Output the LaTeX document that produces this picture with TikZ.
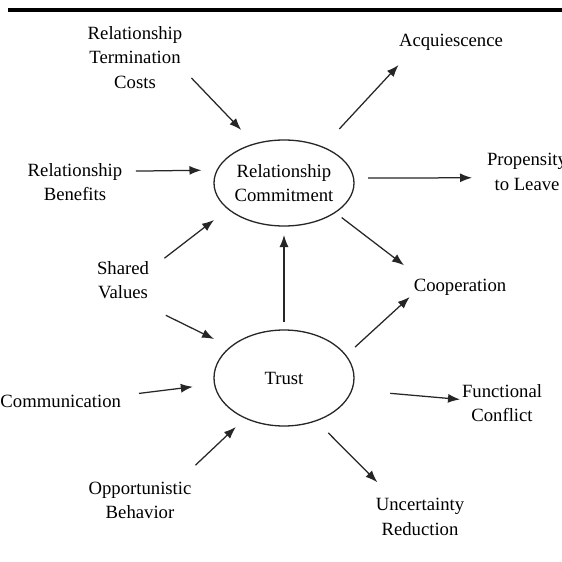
\documentclass[tikz,border=0pt]{standalone}
\usepackage{fontspec}
\setmainfont{Liberation Serif}
\usetikzlibrary{arrows.meta,shapes.geometric}

\tikzset{
  lbl/.style={inner sep=0pt, outer sep=0pt, align=center, text=black,
    font=\fontsize{18.7}{24.5}\selectfont},
  construct/.style={ellipse, draw=black!85, line width=1.3pt, inner sep=0pt,
    outer sep=0pt, text=black, align=center,
    font=\fontsize{18.7}{24.5}\selectfont},
  arr/.style={draw=black!85, line width=1.25pt,
    -{Latex[length=12pt,width=9pt]}},
  rule/.style={draw=black, line width=3.5pt}
}

\begin{document}
\begin{tikzpicture}[x=1pt,y=-1pt]
  \useasboundingbox (0,0) rectangle (562,562);
  \fill[white] (0,0) rectangle (562,562);
  \clip (0,0) rectangle (562,562);

  % heading rule
  \coordinate (ruleL) at (8,10);
  \coordinate (ruleR) at (562,10);
  \draw[rule] (ruleL) -- (ruleR);

  % central constructs
  \node[construct, minimum width=140pt, minimum height=86pt] (rc) at (284,183)
    {Relationship\\Commitment};
  \node[construct, minimum width=140pt, minimum height=96pt] (trust) at (284,378)
    {Trust};

  % antecedents
  \node[lbl] (tc)   at (135,57.5)  {Relationship\\Termination\\Costs};
  \node[lbl] (rb)   at (75,182.2)  {Relationship\\Benefits};
  \node[lbl] (sv)   at (123,280.1) {Shared\\Values};
  \node[lbl, anchor=east] (comm) at (121,400.9) {Communication};
  \node[lbl] (opp)  at (140,500.2) {Opportunistic\\Behavior};

  % outcomes
  \node[lbl] (acq)  at (451,41.8)  {Acquiescence};
  \node[lbl] (prop) at (527,172.1) {Propensity\\to Leave};
  \node[lbl] (coop) at (460,286.8) {Cooperation};
  \node[lbl] (func) at (502,403.1) {Functional\\Conflict};
  \node[lbl] (unc)  at (420,517.1) {Uncertainty\\Reduction};

  % links into commitment and trust
  \draw[arr, shorten <=13.2pt, shorten >=19.4pt] (tc.-13)   -- (rc.127.2);
  \draw[arr, shorten <=13.5pt, shorten >=15.8pt] (rb.13.8)  -- (rc.169.9);
  \draw[arr, shorten <=19.5pt, shorten >=18pt]   (sv.21.8)  -- (rc.205);
  \draw[arr, shorten <=37pt,   shorten >=18.3pt] (sv.-63.2) -- (trust.150);
  \draw[arr, shorten <=8pt,    shorten >=9pt]    (trust.north) -- (rc.south);
  \draw[arr, shorten <=18.1pt, shorten >=21.9pt] (comm.5.8) -- (trust.185.4);
  \draw[arr, shorten <=24pt,   shorten >=13.1pt] (opp.26)   -- (trust.226.2);

  % links out to the outcomes
  \draw[arr, shorten <=24.8pt, shorten >=20.5pt] (rc.43.8)    -- (acq.192.5);
  \draw[arr, shorten <=14.5pt, shorten >=15pt]   (rc.4.1)     -- (prop.188.7);
  \draw[arr, shorten <=8.4pt,  shorten >=22pt]   (rc.-30.7)   -- (coop.168.5);
  \draw[arr, shorten <=12.5pt, shorten >=5.5pt]  (trust.20.1) -- (coop.188.1);
  \draw[arr, shorten <=38.6pt, shorten >=2pt]    (trust.-10.7) -- (func.175.8);
  \draw[arr, shorten <=17.3pt, shorten >=23pt]   (trust.-53.4) -- (unc.145);
\end{tikzpicture}
\end{document}
